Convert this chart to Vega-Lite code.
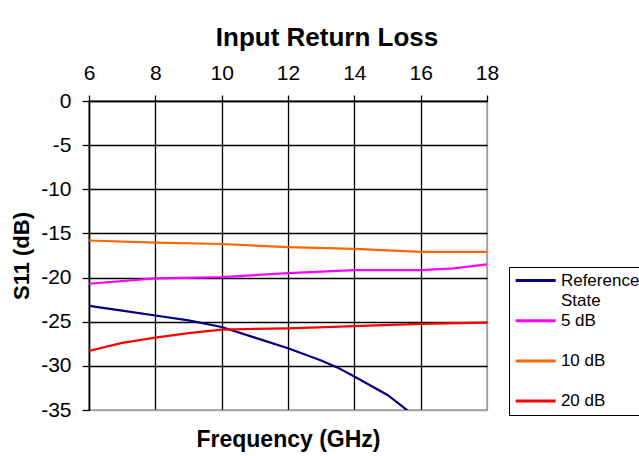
{
  "$schema": "https://vega.github.io/schema/vega-lite/v6.json",
  "width": 398,
  "height": 309,
  "autosize": {"type": "none"},
  "padding": {"left": 89, "top": 101, "right": 152, "bottom": 46},
  "background": "white",
  "title": {
    "text": "Input Return Loss",
    "font": "Liberation Sans",
    "fontSize": 26,
    "fontWeight": "bold",
    "color": "black",
    "anchor": "middle",
    "dx": 39,
    "offset": 11
  },
  "data": {
    "values": [
      {"f": 6, "v": -23.2, "s": "Reference State"},
      {"f": 7, "v": -23.75, "s": "Reference State"},
      {"f": 8, "v": -24.3, "s": "Reference State"},
      {"f": 9, "v": -24.85, "s": "Reference State"},
      {"f": 10, "v": -25.6, "s": "Reference State"},
      {"f": 11, "v": -26.8, "s": "Reference State"},
      {"f": 12, "v": -28.0, "s": "Reference State"},
      {"f": 13, "v": -29.4, "s": "Reference State"},
      {"f": 13.5, "v": -30.2, "s": "Reference State"},
      {"f": 14, "v": -31.2, "s": "Reference State"},
      {"f": 15, "v": -33.3, "s": "Reference State"},
      {"f": 16, "v": -36.2, "s": "Reference State"},

      {"f": 6, "v": -20.7, "s": "5 dB"},
      {"f": 8, "v": -20.1, "s": "5 dB"},
      {"f": 10, "v": -19.95, "s": "5 dB"},
      {"f": 12, "v": -19.5, "s": "5 dB"},
      {"f": 14, "v": -19.15, "s": "5 dB"},
      {"f": 16, "v": -19.15, "s": "5 dB"},
      {"f": 17, "v": -18.95, "s": "5 dB"},
      {"f": 18, "v": -18.5, "s": "5 dB"},

      {"f": 6, "v": -15.8, "s": "10 dB"},
      {"f": 8, "v": -16.05, "s": "10 dB"},
      {"f": 10, "v": -16.2, "s": "10 dB"},
      {"f": 12, "v": -16.55, "s": "10 dB"},
      {"f": 14, "v": -16.75, "s": "10 dB"},
      {"f": 16, "v": -17.1, "s": "10 dB"},
      {"f": 18, "v": -17.1, "s": "10 dB"},

      {"f": 6, "v": -28.3, "s": "20 dB"},
      {"f": 7, "v": -27.4, "s": "20 dB"},
      {"f": 8, "v": -26.8, "s": "20 dB"},
      {"f": 9, "v": -26.3, "s": "20 dB"},
      {"f": 10, "v": -25.9, "s": "20 dB"},
      {"f": 11, "v": -25.8, "s": "20 dB"},
      {"f": 12, "v": -25.75, "s": "20 dB"},
      {"f": 14, "v": -25.5, "s": "20 dB"},
      {"f": 16, "v": -25.25, "s": "20 dB"},
      {"f": 18, "v": -25.1, "s": "20 dB"}
    ]
  },
  "mark": {"type": "line", "strokeWidth": 2.2, "clip": true},
  "encoding": {
    "x": {
      "field": "f",
      "type": "quantitative",
      "scale": {"domain": [6, 18], "nice": false},
      "axis": {
        "orient": "top",
        "values": [6, 8, 10, 12, 14, 16, 18],
        "title": "Frequency (GHz)",
        "titleY": 345,
        "titleBaseline": "alphabetic",
        "titleFont": "Liberation Sans",
        "titleFontSize": 23,
        "titleFontWeight": "bold",
        "titleColor": "black",
        "labelFont": "Liberation Sans",
        "labelFontSize": 21,
        "labelColor": "black",
        "labelBaseline": "alphabetic",
        "labelPadding": 16,
        "labelFlush": false,
        "tickSize": 6,
        "tickColor": "black",
        "tickWidth": 1.3,
        "domainColor": "black",
        "domainWidth": 1.5,
        "grid": true,
        "gridColor": {"condition": {"test": "datum.value == 18", "value": "#a0a0a0"}, "value": "black"},
        "gridWidth": 1.3,
        "gridOpacity": 1
      }
    },
    "y": {
      "field": "v",
      "type": "quantitative",
      "scale": {"domain": [-35, 0], "nice": false},
      "axis": {
        "values": [0, -5, -10, -15, -20, -25, -30, -35],
        "labelExpr": "'' + datum.value",
        "title": "S11 (dB)",
        "titleX": -56,
        "titleFont": "Liberation Sans",
        "titleFontSize": 22,
        "titleFontWeight": "bold",
        "titleColor": "black",
        "labelFont": "Liberation Sans",
        "labelFontSize": 21,
        "labelColor": "black",
        "labelPadding": 11,
        "labelFlush": false,
        "tickSize": 7,
        "tickColor": "black",
        "tickWidth": 1.3,
        "domainColor": "black",
        "domainWidth": 1.5,
        "grid": true,
        "gridColor": {"condition": {"test": "datum.value == -35", "value": "#a0a0a0"}, "value": "black"},
        "gridWidth": 1.3,
        "gridOpacity": 1
      }
    },
    "color": {
      "field": "s",
      "type": "nominal",
      "sort": ["Reference State", "5 dB", "10 dB", "20 dB"],
      "scale": {
        "domain": ["Reference State", "5 dB", "10 dB", "20 dB"],
        "range": ["#000080", "#ff00ff", "#ff6600", "#ff0000"]
      },
      "legend": {
        "title": null,
        "orient": "none",
        "legendX": 420,
        "legendY": 166,
        "symbolType": "M-4,0H4",
        "symbolSize": 100,
        "symbolStrokeWidth": 3,
        "symbolOffset": 13.2,
        "labelFont": "Liberation Sans",
        "labelFontSize": 17,
        "labelColor": "black",
        "labelOffset": 16.7,
        "labelExpr": "datum.label == 'Reference State' ? ['Reference', 'State'] : datum.label == '20 dB' ? datum.label : [datum.label, '']",
        "rowPadding": 2.2,
        "padding": 5,
        "strokeColor": "black",
        "fillColor": "white",
        "encode": {"labels": {"update": {"lineHeight": {"value": 20}}}}
      }
    }
  },
  "config": {
    "view": {"stroke": "#a0a0a0", "strokeWidth": 1.5}
  }
}
